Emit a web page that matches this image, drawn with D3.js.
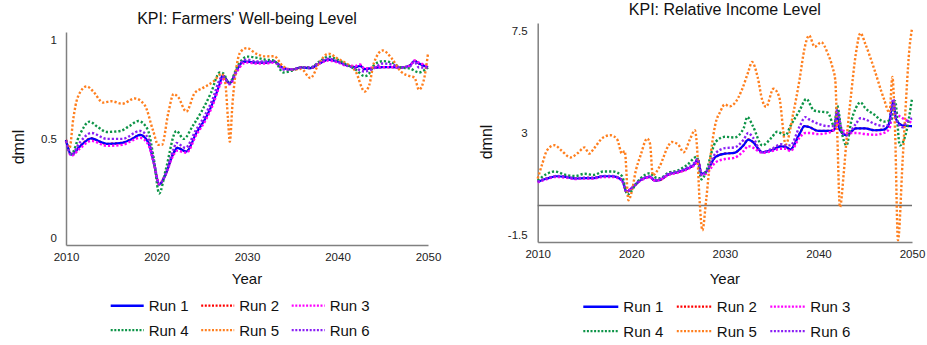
<!DOCTYPE html>
<html>
<head>
<meta charset="utf-8">
<script src="https://cdn.jsdelivr.net/npm/d3@7"></script>
<style>
  body { margin: 0; background: #fff; }
  svg { font-family: "Liberation Sans", Arial, sans-serif; }
</style>
</head>
<body>
<svg width="927" height="345"></svg>
<script>
// Years on the x axis
const yearTicks = [2010, 2020, 2030, 2040, 2050];
const runNames = ["Run 1", "Run 2", "Run 3", "Run 4", "Run 5", "Run 6"];

// KPI: Farmers' Well-being Level  [year, value]
const wbTicks = [0, 0.5, 1];
const wbRun1 = [[2010,0.495],[2010.6,0.42],[2011.5,0.46],[2012.8,0.503],[2013.8,0.485],[2014.5,0.475],[2016.2,0.48],[2017.3,0.5],[2018.2,0.52],[2019.1,0.48],[2019.7,0.38],[2020.3,0.27],[2020.9,0.31],[2021.9,0.43],[2022.3,0.455],[2023.3,0.436],[2024.4,0.53],[2025.5,0.61],[2026.3,0.69],[2027,0.78],[2027.3,0.82],[2028.1,0.78],[2028.9,0.85],[2029.6,0.89],[2030,0.89],[2031,0.885],[2032,0.885],[2033,0.89],[2034,0.857],[2035,0.85],[2036,0.86],[2037,0.857],[2038,0.88],[2039,0.9],[2040,0.89],[2041,0.872],[2042,0.862],[2042.5,0.868],[2043,0.852],[2044,0.858],[2045,0.862],[2046,0.862],[2047,0.86],[2048,0.87],[2048.5,0.894],[2049,0.88],[2050,0.86]];
const wbRun2 = wbRun1; // hidden under run 1
const wbRun3 = [[2010,0.49],[2010.6,0.415],[2011.5,0.45],[2012.8,0.49],[2014.5,0.465],[2016.2,0.47],[2018.2,0.505],[2019.1,0.47],[2019.7,0.38],[2020.3,0.275],[2020.9,0.31],[2021.9,0.42],[2022.3,0.44],[2023.3,0.43],[2024.4,0.52],[2025.5,0.6],[2026.3,0.68],[2027,0.77],[2027.4,0.8],[2028.1,0.775],[2028.9,0.84],[2029.6,0.88],[2030,0.885],[2031,0.88],[2032,0.88],[2033,0.885],[2034,0.855],[2035,0.85],[2036,0.86],[2037,0.86],[2038,0.88],[2039,0.895],[2040,0.885],[2041,0.87],[2042,0.868],[2042.5,0.875],[2043,0.855],[2044,0.86],[2045,0.862],[2046,0.862],[2047,0.86],[2048,0.868],[2048.5,0.895],[2049,0.885],[2050,0.865]];
const wbRun4 = [[2010,0.49],[2010.6,0.425],[2011.5,0.52],[2012.6,0.587],[2013.5,0.56],[2014.5,0.535],[2016,0.54],[2017,0.565],[2018,0.59],[2019,0.55],[2019.7,0.4],[2020.3,0.225],[2021,0.34],[2022.2,0.54],[2023,0.5],[2024,0.565],[2025,0.64],[2026,0.73],[2027,0.835],[2027.4,0.83],[2028,0.78],[2029,0.87],[2030,0.915],[2031,0.91],[2032,0.9],[2033,0.895],[2034,0.835],[2035,0.845],[2036,0.86],[2037,0.86],[2038,0.89],[2039,0.915],[2040,0.9],[2041,0.875],[2042,0.85],[2043,0.816],[2043.5,0.83],[2044,0.87],[2045,0.892],[2046,0.885],[2047,0.86],[2048,0.855],[2049,0.835],[2050,0.86]];
const wbRun5 = [[2010,0.49],[2010.4,0.455],[2010.8,0.6],[2011.3,0.71],[2012.3,0.765],[2013,0.74],[2014.1,0.683],[2015,0.69],[2016.2,0.677],[2017.6,0.704],[2018.7,0.67],[2019.6,0.545],[2020.2,0.47],[2020.6,0.47],[2021.3,0.63],[2021.9,0.727],[2022.4,0.71],[2023.3,0.638],[2024.2,0.73],[2025.1,0.756],[2026.3,0.79],[2027.2,0.828],[2027.6,0.78],[2027.9,0.6],[2028.1,0.486],[2028.4,0.68],[2028.9,0.88],[2029.3,0.94],[2030,0.958],[2031,0.93],[2032,0.916],[2033,0.917],[2034,0.865],[2035,0.85],[2036,0.853],[2037,0.807],[2038,0.885],[2039,0.93],[2040,0.905],[2041,0.88],[2042,0.84],[2043,0.739],[2043.5,0.77],[2044,0.88],[2045,0.946],[2046,0.905],[2047,0.84],[2048,0.816],[2048.5,0.81],[2049,0.748],[2049.5,0.79],[2050,0.93]];
const wbRun6 = [[2010,0.49],[2010.6,0.42],[2011.5,0.48],[2012.8,0.53],[2014.5,0.5],[2016.2,0.5],[2018.2,0.54],[2019.1,0.5],[2019.7,0.39],[2020.3,0.27],[2020.9,0.31],[2021.9,0.45],[2022.2,0.48],[2023.2,0.455],[2024.3,0.54],[2025.3,0.615],[2026.2,0.7],[2027,0.8],[2027.3,0.815],[2028.1,0.78],[2028.9,0.85],[2029.6,0.895],[2030,0.9],[2031,0.89],[2032,0.89],[2033,0.89],[2034,0.85],[2035,0.85],[2036,0.86],[2037,0.86],[2038,0.885],[2039,0.905],[2040,0.89],[2041,0.87],[2042,0.855],[2043,0.84],[2044,0.855],[2045,0.88],[2046,0.875],[2047,0.86],[2048,0.865],[2048.5,0.89],[2049,0.86],[2050,0.86]];

// KPI: Relative Income Level  [year, value]
const riTicks = [-1.5, 3, 7.5];
const riRefLine = -0.2;
const riRun1 = [[2010,0.84],[2011,0.99],[2012,1.09],[2013,1.06],[2014,0.99],[2015,1.01],[2016,1.01],[2017,1.09],[2018,1.09],[2019,0.92],[2019.5,0.4],[2020,0.55],[2021,0.92],[2022,1.06],[2022.5,0.9],[2023,0.92],[2024,1.18],[2025,1.28],[2026,1.43],[2026.8,1.65],[2027.1,1.85],[2027.5,1.2],[2028,1.28],[2029,1.94],[2030,2.09],[2031,2.12],[2032,2.46],[2032.5,2.71],[2033,2.6],[2034,2.15],[2035,2.24],[2036,2.41],[2036.5,2.39],[2037,2.27],[2038,2.97],[2038.5,3.3],[2039,3.26],[2040,3.09],[2041,3.09],[2041.7,3.12],[2042,4.0],[2042.2,3.2],[2043,2.9],[2044,3.2],[2045,3.2],[2046,3.12],[2047,3.15],[2047.5,3.35],[2048,4.4],[2048.3,3.6],[2049,3.33],[2050,3.3]];
const riRun2 = riRun1; // hidden under run 1
const riRun3 = [[2010,0.82],[2011,0.97],[2012,1.06],[2013,1.03],[2014,0.97],[2015,0.99],[2016,0.99],[2017,1.06],[2018,1.06],[2019,0.9],[2019.5,0.42],[2020,0.55],[2021,0.9],[2022,1.04],[2022.5,0.9],[2023,0.92],[2024,1.15],[2025,1.25],[2026,1.4],[2026.8,1.6],[2027.1,1.75],[2027.5,1.15],[2028,1.2],[2029,1.7],[2030,1.85],[2031,1.9],[2032,2.2],[2032.5,2.42],[2033,2.35],[2034,2.12],[2035,2.2],[2036,2.3],[2036.5,2.3],[2037,2.2],[2038,2.8],[2038.6,3.0],[2039,3.0],[2040,2.95],[2041,3.0],[2041.8,3.2],[2042,3.5],[2042.5,3.2],[2043,3.0],[2044,3.0],[2045,2.95],[2046,2.92],[2047,3.0],[2047.6,3.2],[2048,4.1],[2048.5,3.8],[2049,3.65],[2050,3.45]];
const riRun4 = [[2010,0.9],[2011,1.2],[2011.8,1.3],[2013,1.15],[2014,1.1],[2015,1.2],[2016,1.15],[2017,1.3],[2018,1.3],[2019,1.1],[2019.6,0.28],[2020.5,0.75],[2021,1.0],[2022,1.22],[2022.5,1.05],[2023,1.0],[2024,1.25],[2025,1.35],[2026,1.6],[2027,1.95],[2027.5,0.95],[2028,1.3],[2028.7,2.3],[2029,2.6],[2030,2.83],[2031,2.8],[2032,3.2],[2032.4,3.7],[2033,3.3],[2034,2.45],[2035,2.8],[2035.6,3.05],[2036.5,2.9],[2037,3.3],[2038,4.0],[2038.7,4.5],[2039.5,4.0],[2040,3.95],[2041,3.9],[2041.7,3.3],[2042,4.2],[2042.5,3.0],[2043,2.45],[2043.5,3.5],[2044,4.1],[2044.5,4.35],[2045,4.1],[2046,3.8],[2047,3.5],[2047.8,3.6],[2048.2,4.4],[2048.7,2.45],[2049.3,2.9],[2050,4.5]];
const riRun5 = [[2010,0.99],[2010.5,1.65],[2011,2.24],[2011.8,2.46],[2012.5,2.24],[2013.5,1.92],[2014.3,2.12],[2015,2.36],[2015.5,2.09],[2016,2.31],[2017,2.8],[2017.8,2.9],[2018.5,2.71],[2019,2.09],[2019.3,2.2],[2019.7,0.03],[2020,0.33],[2020.5,1.36],[2021,2.02],[2021.7,2.75],[2022,2.53],[2022.3,1.13],[2023,1.5],[2024,2.46],[2024.3,2.6],[2025,2.5],[2025.6,2.15],[2026.3,2.75],[2026.8,3.12],[2027,2.53],[2027.3,0.03],[2027.6,-1.29],[2028,0.03],[2028.5,2.09],[2029,3.41],[2029.5,3.93],[2030,4.26],[2030.5,4.17],[2031,4.29],[2031.8,4.88],[2032.5,5.69],[2032.9,6.13],[2033.5,5.47],[2034,4.44],[2034.4,4.15],[2035.2,4.95],[2035.8,4.6],[2036.5,2.5],[2037.3,3.85],[2038,5.4],[2038.5,6.7],[2039,7.3],[2039.6,6.8],[2040.3,7.0],[2041,6.5],[2041.5,5.9],[2041.8,5.33],[2042,3.12],[2042.3,-0.27],[2042.7,1.2],[2043,2.68],[2043.5,4.73],[2044,6.5],[2044.5,7.4],[2045,6.94],[2046,5.77],[2047,4.5],[2047.6,3.9],[2047.9,5.47],[2048.2,2.97],[2048.5,-1.73],[2049,1.8],[2049.3,4.0],[2049.7,6.6],[2050,7.6]];
const riRun6 = [[2010,0.85],[2011,1.0],[2012,1.1],[2013,1.07],[2014,1.0],[2015,1.03],[2016,1.03],[2017,1.1],[2018,1.1],[2019,0.93],[2019.5,0.4],[2020,0.55],[2021,0.93],[2022,1.08],[2022.5,0.92],[2023,0.95],[2024,1.2],[2025,1.3],[2026,1.47],[2026.8,1.7],[2027.1,1.85],[2027.5,1.15],[2028,1.3],[2029,2.1],[2030,2.33],[2031,2.36],[2032,2.7],[2032.5,3.0],[2033,2.8],[2034,2.15],[2035,2.3],[2036,2.5],[2036.5,2.45],[2037,2.45],[2038,3.3],[2038.6,3.7],[2039,3.6],[2040,3.4],[2041,3.3],[2041.7,3.3],[2042,4.0],[2042.5,3.1],[2043,2.9],[2044,3.4],[2044.5,3.65],[2045,3.6],[2046,3.4],[2047,3.3],[2047.6,3.4],[2048,4.5],[2048.3,3.6],[2049,3.25],[2049.5,3.5],[2050,3.65]];

// Styles per run
const runColors = ["#0000ff", "#ff0000", "#ff00ff", "#0d9447", "#ff7f1e", "#8a1ef5"];
// order in which runs are painted (run 2 sits below run 1)
const drawOrder = [1, 0, 2, 3, 4, 5];

const svg = d3.select("svg");

function drawChart(opt) {
  const g = svg.append("g");
  const x = d3.scaleLinear().domain([2010, 2050]).range([opt.left, opt.right]);
  const y = d3.scaleLinear().domain(opt.yDomain).range([opt.bottom, opt.top]);

  // Titre
  g.append("text")
    .attr("x", (opt.left + opt.right) / 2)
    .attr("y", opt.titleY)
    .attr("text-anchor", "middle")
    .attr("font-size", 16)
    .attr("fill", "#111")
    .text(opt.title);

  // Axes
  const ax = g.append("g")
    .attr("transform", `translate(0,${opt.bottom})`)
    .call(d3.axisBottom(x).tickValues(yearTicks).tickFormat(d3.format("d")).tickSize(0).tickPadding(8));
  const ay = g.append("g")
    .attr("transform", `translate(${opt.left},0)`)
    .call(d3.axisLeft(y).tickValues(opt.yTicks).tickFormat(d => d).tickSize(0).tickPadding(opt.yPad));
  [ax, ay].forEach(a => {
    a.select(".domain").attr("stroke", "#808080").attr("stroke-width", 1.5);
    a.selectAll("text").attr("font-size", 11.5).attr("fill", "#222")
      .attr("font-family", '"Liberation Sans", Arial, sans-serif');
  });

  if (opt.refLine !== undefined) {
    g.append("line")
      .attr("x1", opt.left).attr("x2", opt.right)
      .attr("y1", y(opt.refLine)).attr("y2", y(opt.refLine))
      .attr("stroke", "#707070").attr("stroke-width", 1.3);
  }

  // Lignes
  const line = d3.line()
    .x(d => x(d[0]))
    .y(d => y(d[1]))
    .curve(d3.curveMonotoneX);

  drawOrder.forEach(i => {
    g.append("path")
      .datum(opt.runs[i])
      .attr("fill", "none")
      .attr("stroke", runColors[i])
      .attr("stroke-width", i === 0 ? 2.2 : 2.4)
      .attr("stroke-dasharray", i === 0 ? null : "2.2,2")
      .attr("d", line);
  });

  // Etiquettes des axes
  g.append("text")
    .attr("x", (opt.left + opt.right) / 2)
    .attr("y", 284)
    .attr("text-anchor", "middle")
    .attr("font-size", 15)
    .attr("fill", "#111")
    .text("Year");

  g.append("text")
    .attr("transform", `translate(${opt.dmnlX},${opt.dmnlY}) rotate(-90)`)
    .attr("text-anchor", "middle")
    .attr("font-size", 16)
    .attr("fill", "#111")
    .text("dmnl");

  // Légende
  runNames.forEach((name, i) => {
    const col = i % 3, row = Math.floor(i / 3);
    const lx = opt.legX + col * opt.legStep;
    const ly = opt.legY + row * 24.5;
    g.append("line")
      .attr("x1", lx).attr("x2", lx + opt.legLen)
      .attr("y1", ly).attr("y2", ly)
      .attr("stroke", runColors[i])
      .attr("stroke-width", i === 0 ? 2.4 : 2.2)
      .attr("stroke-dasharray", i === 0 ? null : "2,1.6");
    g.append("text")
      .attr("x", lx + opt.legLen + 5)
      .attr("y", ly)
      .attr("dy", "0.36em")
      .attr("font-size", 15)
      .attr("fill", "#111")
      .text(name);
  });
}

drawChart({
  title: "KPI: Farmers' Well-being Level", titleY: 24,
  left: 66, right: 428, top: 32, bottom: 245,
  yDomain: [-0.035, 1.039], yTicks: wbTicks, yPad: 9,
  runs: [wbRun1, wbRun2, wbRun3, wbRun4, wbRun5, wbRun6],
  dmnlX: 24, dmnlY: 147,
  legX: 110.7, legStep: 90.5, legLen: 33, legY: 305.7
});

drawChart({
  title: "KPI: Relative Income Level", titleY: 15,
  left: 537.7, right: 912, top: 23, bottom: 242,
  yDomain: [-1.81, 7.85], yTicks: riTicks, yPad: 10, refLine: riRefLine,
  runs: [riRun1, riRun2, riRun3, riRun4, riRun5, riRun6],
  dmnlX: 492, dmnlY: 142,
  legX: 583.3, legStep: 93.5, legLen: 35, legY: 306.7
});
</script>
</body>
</html>
